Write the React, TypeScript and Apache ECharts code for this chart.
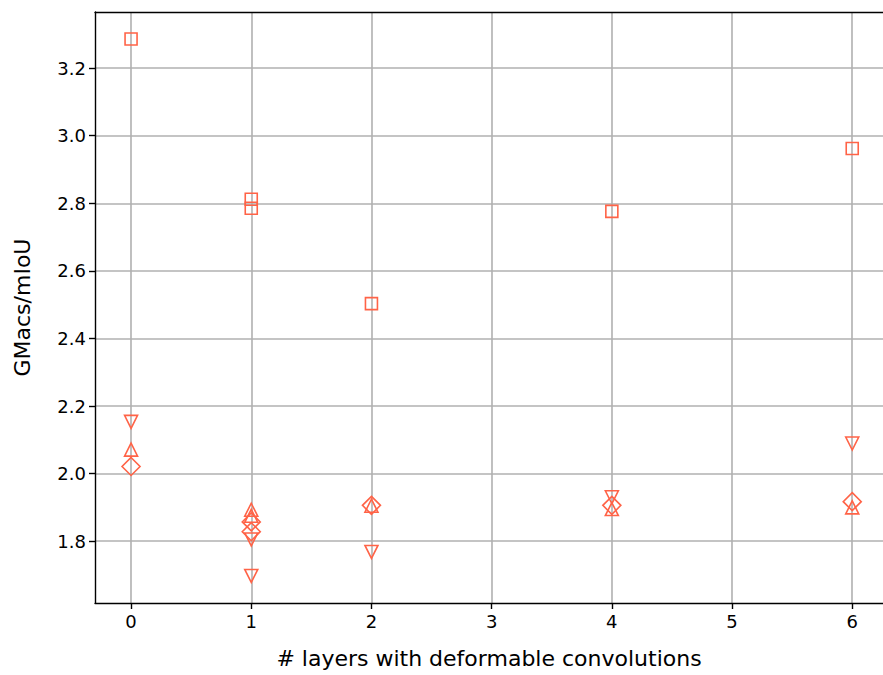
import React, { useEffect, useRef } from "react";
import * as echarts from "echarts";

const COLOR = "#FF6347";

const squareX = [0, 1, 1, 2, 4, 6];
const squareY = [3.286, 2.812, 2.785, 2.503, 2.776, 2.962];
const triDownX = [0, 1, 1, 2, 4, 6];
const triDownY = [2.153, 1.805, 1.697, 1.768, 1.93, 2.089];
const triUpX = [0, 1, 1, 2, 4, 6];
const triUpY = [2.071, 1.893, 1.875, 1.905, 1.895, 1.9];
const diamondX = [0, 1, 1, 2, 4, 6];
const diamondY = [2.021, 1.857, 1.828, 1.906, 1.906, 1.917];

const xTicks = [0, 1, 2, 3, 4, 5, 6];
const yTicks = [1.8, 2.0, 2.2, 2.4, 2.6, 2.8, 3.0, 3.2];

const zip = (xs: number[], ys: number[]) => xs.map((x, i) => [x, ys[i]]);

export default function App() {
  const ref = useRef<HTMLDivElement>(null);
  useEffect(() => {
    if (!ref.current) return;
    const chart = echarts.init(ref.current, null, { renderer: "svg" });
    const font = "DejaVu Sans";
    const mk = (name: string, symbol: string, size: number, xs: number[], ys: number[], rotate = 0) => ({
      name,
      type: "scatter",
      symbol,
      symbolSize: size,
      symbolRotate: rotate,
      data: zip(xs, ys),
      itemStyle: { color: "none", borderColor: COLOR, borderWidth: 1.6, opacity: 1 },
      emphasis: { disabled: true },
      z: 3,
    });
    const XMIN = -0.3;
    const XMAX = 6.256;
    chart.setOption({
      animation: false,
      grid: {
        left: 95,
        top: 12,
        right: 0,
        bottom: 72,
        show: false,
      },
      xAxis: [
        {
          type: "value",
          min: XMIN,
          max: XMAX,
          name: "# layers with deformable convolutions",
          nameLocation: "middle",
          nameGap: 44,
          nameTextStyle: { fontFamily: font, fontSize: 22, color: "#000" },
          axisLine: { show: true, onZero: false, lineStyle: { color: "#000", width: 1.4 } },
          axisTick: { show: true, length: 6, customValues: xTicks, lineStyle: { color: "#000", width: 1.4 } },
          axisLabel: {
            fontFamily: font,
            fontSize: 18,
            color: "#000",
            margin: 9,
            customValues: xTicks,
            formatter: (v: number) => String(v),
          },
          splitLine: { show: true, lineStyle: { color: "#b0b0b0", width: 1.6 } },
        },
        {
          type: "value",
          position: "top",
          min: XMIN,
          max: XMAX,
          axisLine: { show: true, onZero: false, lineStyle: { color: "#000", width: 1.4 } },
          axisTick: { show: false },
          axisLabel: { show: false },
          splitLine: { show: false },
        },
      ],
      yAxis: {
        type: "value",
        min: 1.617,
        max: 3.366,
        name: "GMacs/mIoU",
        nameLocation: "middle",
        nameGap: 62,
        nameTextStyle: { fontFamily: font, fontSize: 22, color: "#000" },
        axisLine: { show: true, onZero: false, lineStyle: { color: "#000", width: 1.4 } },
        axisTick: { show: true, length: 6, customValues: yTicks, lineStyle: { color: "#000", width: 1.4 } },
        axisLabel: {
          fontFamily: font,
          fontSize: 18,
          color: "#000",
          margin: 9,
          customValues: yTicks,
          formatter: (v: number) => v.toFixed(1),
        },
        splitLine: { show: true, lineStyle: { color: "#b0b0b0", width: 1.6 } },
      },
      series: [
        mk("square", "rect", 12, squareX, squareY),
        mk("triDown", "triangle", 13, triDownX, triDownY, 180),
        mk("triUp", "triangle", 13, triUpX, triUpY),
        mk("diamond", "diamond", 18, diamondX, diamondY),
      ],
    });
    return () => chart.dispose();
  }, []);
  return (
    <div
      ref={ref}
      style={{ position: "absolute", left: 0, top: 0, width: 883, height: 675, background: "#fff" }}
    />
  );
}
